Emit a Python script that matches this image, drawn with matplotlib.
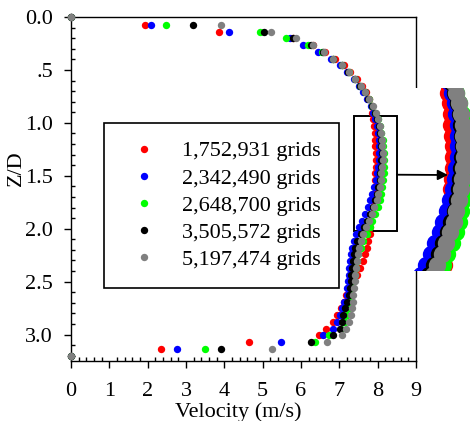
import numpy as np
import matplotlib
matplotlib.use('Agg')
import matplotlib.pyplot as plt
from matplotlib.patches import Rectangle, ConnectionPatch
from matplotlib.ticker import MultipleLocator, FuncFormatter

# data: velocity profiles (m/s) at Z/D levels for five meshes
zd = [0.075, 0.139, 0.203, 0.266, 0.330, 0.394, 0.458, 0.521, 0.585, 0.649,
      0.713, 0.776, 0.840, 0.904, 0.968, 1.031, 1.095, 1.159, 1.223, 1.286,
      1.350, 1.414, 1.478, 1.541, 1.605, 1.669, 1.733, 1.796, 1.860, 1.924,
      1.988, 2.051, 2.115, 2.179, 2.243, 2.306, 2.370, 2.434, 2.498, 2.561,
      2.625, 2.689, 2.753, 2.816, 2.880, 2.944, 3.008, 3.071, 3.135]
wall_z = [0.0, 3.2]
wall_v = [0.0, 0.0]

v_1752931 = [1.93, 3.86, 5.79, 6.30, 6.62, 6.89, 7.12, 7.28, 7.45, 7.58,
             7.69, 7.77, 7.84, 7.86, 7.88, 7.90, 7.92, 7.93, 7.94, 7.95,
             7.95, 7.95, 7.94, 7.93, 7.92, 7.91, 7.89, 7.87, 7.85, 7.83,
             7.81, 7.79, 7.76, 7.72, 7.67, 7.61, 7.54, 7.46, 7.30, 7.22,
             7.17, 7.12, 7.05, 6.93, 6.84, 6.66, 6.48, 4.64, 2.34]
v_2342490 = [2.09, 4.12, 5.72, 6.04, 6.45, 6.78, 7.02, 7.20, 7.37, 7.51,
             7.63, 7.73, 7.82, 7.89, 7.94, 7.98, 8.01, 8.03, 8.04, 8.04,
             8.03, 8.01, 7.98, 7.95, 7.91, 7.86, 7.80, 7.74, 7.67, 7.59,
             7.51, 7.44, 7.38, 7.34, 7.30, 7.28, 7.26, 7.24, 7.22, 7.21,
             7.19, 7.12, 7.07, 7.03, 6.94, 6.83, 6.58, 5.48, 2.76]
v_2648700 = [2.48, 4.93, 5.61, 6.18, 6.55, 6.83, 7.07, 7.24, 7.41, 7.55,
             7.67, 7.77, 7.86, 7.94, 8.01, 8.06, 8.10, 8.13, 8.15, 8.16,
             8.17, 8.17, 8.16, 8.14, 8.12, 8.09, 8.05, 8.00, 7.94, 7.86,
             7.79, 7.71, 7.63, 7.56, 7.50, 7.46, 7.43, 7.40, 7.37, 7.34,
             7.31, 7.28, 7.25, 7.20, 7.14, 7.05, 6.74, 6.37, 3.49]
v_3505572 = [3.18, 5.03, 5.80, 6.25, 6.58, 6.83, 7.06, 7.23, 7.40, 7.54,
             7.66, 7.76, 7.85, 7.93, 7.99, 8.04, 8.07, 8.09, 8.10, 8.11,
             8.10, 8.09, 8.07, 8.05, 8.02, 7.98, 7.93, 7.87, 7.80, 7.72,
             7.64, 7.56, 7.46, 7.41, 7.38, 7.35, 7.33, 7.31, 7.30, 7.28,
             7.26, 7.21, 7.15, 7.10, 7.06, 7.02, 6.84, 6.25, 3.91]
v_5197474 = [3.91, 5.22, 5.87, 6.30, 6.60, 6.84, 7.08, 7.25, 7.42, 7.56,
             7.68, 7.78, 7.87, 7.95, 8.01, 8.06, 8.09, 8.11, 8.12, 8.13,
             8.13, 8.12, 8.10, 8.08, 8.05, 8.01, 7.97, 7.91, 7.84, 7.77,
             7.70, 7.63, 7.57, 7.52, 7.49, 7.46, 7.44, 7.42, 7.40, 7.38,
             7.36, 7.35, 7.33, 7.30, 7.25, 7.18, 7.06, 6.67, 5.24]

labels = ['1,752,931 grids', '2,342,490 grids', '2,648,700 grids',
          '3,505,572 grids', '5,197,474 grids']
series = [v_1752931, v_2342490, v_2648700, v_3505572, v_5197474]
colors = ['#ff0000', '#0000ff', '#00ff00', '#000000', '#808080']

# zoom box (data coords)
box_x = (7.38, 8.50)
box_z = (0.94, 2.02)

plt.rcParams['font.family'] = ['Liberation Serif', 'DejaVu Serif']
fsize = 16

W, H = 470, 421
fig = plt.figure(figsize=(W / 100, H / 100), dpi=100)
ax = fig.add_axes([71 / W, 1 - 361 / H, 345 / W, 344 / H])

for v, c, lab in zip(series, colors, labels):
    ax.plot(list(v) + wall_v, list(zd) + wall_z, 'o', color=c, ms=5.3,
            mec='none', label=lab, clip_on=False, zorder=3)

ax.set_xlim(0, 9)
ax.set_ylim(3.25, 0)
ax.xaxis.set_major_locator(MultipleLocator(1))
ax.xaxis.set_minor_locator(MultipleLocator(0.2))
ax.yaxis.set_major_locator(MultipleLocator(0.5))
ax.yaxis.set_minor_locator(MultipleLocator(0.1))
ax.yaxis.set_major_formatter(FuncFormatter(
    lambda y, p: '.5' if abs(y - 0.5) < 1e-6 else '%.1f' % y))
ax.tick_params(which='major', direction='out', length=5, width=1,
               labelsize=fsize, top=False, right=False)
ax.tick_params(which='minor', direction='in', length=3, width=1,
               top=False, right=False)
ax.tick_params(axis='x', which='major', pad=10)
ax.tick_params(axis='y', which='major', pad=8)
for s in ax.spines.values():
    s.set_linewidth(1.0)

ax.set_xlabel('Velocity (m/s)', fontsize=fsize)
ax.xaxis.set_label_coords(0.484, -0.12)
ax.set_ylabel('Z/D', fontsize=fsize)
ax.yaxis.set_label_coords(-0.13, 0.56)

leg = ax.legend(loc='upper left', bbox_to_anchor=(104 / W, 1 - 123 / H),
                bbox_transform=fig.transFigure, borderaxespad=0,
                prop={'size': fsize}, numpoints=1, fancybox=False,
                framealpha=1, edgecolor='black', borderpad=0.8,
                handlelength=2.0, handletextpad=0.72, labelspacing=0.3)
leg.get_frame().set_linewidth(1.2)

ax.add_patch(Rectangle((box_x[0], box_z[0]), box_x[1] - box_x[0],
                       box_z[1] - box_z[0], fill=False, ec='black',
                       lw=1.4, zorder=2))

# magnified view
scale = 69 / (box_x[1] - box_x[0])
left_px = 413
ax2 = fig.add_axes([left_px / W, 1 - 270 / H, 75 / W, 182 / H], zorder=4)
for v, c in zip(series, colors):
    ax2.plot(v, zd, 'o', color=c, ms=12.5, mec='none')
ax2.set_xlim(box_x[0] - (417.6 - left_px) / scale,
             box_x[0] - (417.6 - left_px) / scale + 75 / scale)
ax2.set_ylim(box_z[1], box_z[0])
ax2.set_xticks([])
ax2.set_yticks([])
for s in ax2.spines.values():
    s.set_visible(False)

# arrow from the box to the magnified view
arrow = ConnectionPatch(xyA=(box_x[1], 1.49), coordsA=ax.transData,
                        xyB=(448 / W, 1 - 175 / H), coordsB=fig.transFigure,
                        arrowstyle='-|>', color='black', lw=1.3,
                        mutation_scale=15, shrinkA=0, shrinkB=0)
arrow.set_zorder(6)
fig.add_artist(arrow)

fig.savefig('out.png', dpi=100)
